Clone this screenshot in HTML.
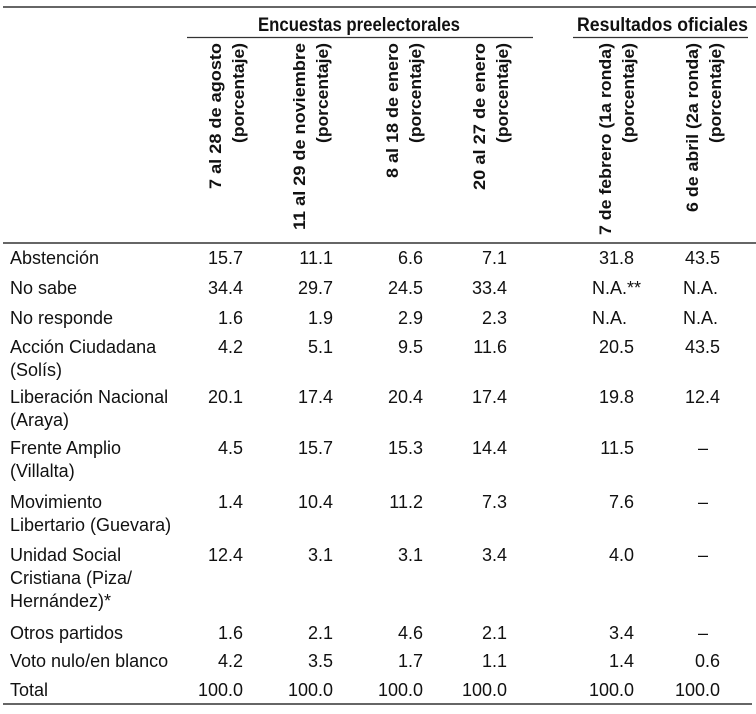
<!DOCTYPE html>
<html><head><meta charset="utf-8"><style>
html,body{margin:0;padding:0;background:#fff;}
svg{display:block;}
text{font-family:"Liberation Sans",sans-serif;font-size:18px;fill:#111;}
.b{font-weight:bold;}
.h{font-size:19px;}
.v{font-size:17px;font-weight:bold;}
.r{text-anchor:end;}
</style></head><body>
<svg width="756" height="714" viewBox="0 0 756 714" xmlns="http://www.w3.org/2000/svg">
<line x1="3" y1="7" x2="756" y2="7" stroke="#333" stroke-width="1.5"/>
<text class="b h" x="258" y="31" textLength="202" lengthAdjust="spacingAndGlyphs">Encuestas preelectorales</text>
<text class="b h" x="577" y="31" textLength="171" lengthAdjust="spacingAndGlyphs">Resultados oficiales</text>
<line x1="187" y1="37.5" x2="533" y2="37.5" stroke="#333" stroke-width="1.2"/>
<line x1="573" y1="37.5" x2="748" y2="37.5" stroke="#333" stroke-width="1.2"/>
<g>
<text class="v r" transform="translate(221,43) rotate(-90)" textLength="146" lengthAdjust="spacingAndGlyphs">7 al 28 de agosto</text>
<text class="v r" transform="translate(244,43) rotate(-90)" textLength="100" lengthAdjust="spacingAndGlyphs">(porcentaje)</text>
<text class="v r" transform="translate(305,43) rotate(-90)" textLength="187" lengthAdjust="spacingAndGlyphs">11 al 29 de noviembre</text>
<text class="v r" transform="translate(328,43) rotate(-90)" textLength="100" lengthAdjust="spacingAndGlyphs">(porcentaje)</text>
<text class="v r" transform="translate(398,43) rotate(-90)" textLength="135" lengthAdjust="spacingAndGlyphs">8 al 18 de enero</text>
<text class="v r" transform="translate(421,43) rotate(-90)" textLength="100" lengthAdjust="spacingAndGlyphs">(porcentaje)</text>
<text class="v r" transform="translate(485,43) rotate(-90)" textLength="147" lengthAdjust="spacingAndGlyphs">20 al 27 de enero</text>
<text class="v r" transform="translate(508,43) rotate(-90)" textLength="100" lengthAdjust="spacingAndGlyphs">(porcentaje)</text>
<text class="v r" transform="translate(611,43) rotate(-90)" textLength="192" lengthAdjust="spacingAndGlyphs">7 de febrero (1a ronda)</text>
<text class="v r" transform="translate(634,43) rotate(-90)" textLength="100" lengthAdjust="spacingAndGlyphs">(porcentaje)</text>
<text class="v r" transform="translate(698,43) rotate(-90)" textLength="169" lengthAdjust="spacingAndGlyphs">6 de abril (2a ronda)</text>
<text class="v r" transform="translate(721,43) rotate(-90)" textLength="100" lengthAdjust="spacingAndGlyphs">(porcentaje)</text>
</g>
<line x1="3" y1="243" x2="756" y2="243" stroke="#333" stroke-width="1.5"/>
<g>
<text x="10" y="264">Abstención</text>
<text x="10" y="294">No sabe</text>
<text x="10" y="324">No responde</text>
<text x="10" y="353">Acción Ciudadana</text><text x="10" y="376">(Solís)</text>
<text x="10" y="403">Liberación Nacional</text><text x="10" y="426">(Araya)</text>
<text x="10" y="454">Frente Amplio</text><text x="10" y="477">(Villalta)</text>
<text x="10" y="508">Movimiento</text><text x="10" y="531">Libertario (Guevara)</text>
<text x="10" y="561">Unidad Social</text><text x="10" y="584">Cristiana (Piza/</text><text x="10" y="607">Hernández)*</text>
<text x="10" y="639">Otros partidos</text>
<text x="10" y="667">Voto nulo/en blanco</text>
<text x="10" y="696">Total</text>
</g>
<g>
<text class="r" x="243" y="264">15.7</text><text class="r" x="243" y="294">34.4</text><text class="r" x="243" y="324">1.6</text><text class="r" x="243" y="353">4.2</text><text class="r" x="243" y="403">20.1</text><text class="r" x="243" y="454">4.5</text><text class="r" x="243" y="508">1.4</text><text class="r" x="243" y="561">12.4</text><text class="r" x="243" y="639">1.6</text><text class="r" x="243" y="667">4.2</text><text class="r" x="243" y="696">100.0</text>
<text class="r" x="333" y="264">11.1</text><text class="r" x="333" y="294">29.7</text><text class="r" x="333" y="324">1.9</text><text class="r" x="333" y="353">5.1</text><text class="r" x="333" y="403">17.4</text><text class="r" x="333" y="454">15.7</text><text class="r" x="333" y="508">10.4</text><text class="r" x="333" y="561">3.1</text><text class="r" x="333" y="639">2.1</text><text class="r" x="333" y="667">3.5</text><text class="r" x="333" y="696">100.0</text>
<text class="r" x="423" y="264">6.6</text><text class="r" x="423" y="294">24.5</text><text class="r" x="423" y="324">2.9</text><text class="r" x="423" y="353">9.5</text><text class="r" x="423" y="403">20.4</text><text class="r" x="423" y="454">15.3</text><text class="r" x="423" y="508">11.2</text><text class="r" x="423" y="561">3.1</text><text class="r" x="423" y="639">4.6</text><text class="r" x="423" y="667">1.7</text><text class="r" x="423" y="696">100.0</text>
<text class="r" x="507" y="264">7.1</text><text class="r" x="507" y="294">33.4</text><text class="r" x="507" y="324">2.3</text><text class="r" x="507" y="353">11.6</text><text class="r" x="507" y="403">17.4</text><text class="r" x="507" y="454">14.4</text><text class="r" x="507" y="508">7.3</text><text class="r" x="507" y="561">3.4</text><text class="r" x="507" y="639">2.1</text><text class="r" x="507" y="667">1.1</text><text class="r" x="507" y="696">100.0</text>
<text class="r" x="634" y="264">31.8</text><text x="592" y="294">N.A.**</text><text x="592" y="324">N.A.</text><text class="r" x="634" y="353">20.5</text><text class="r" x="634" y="403">19.8</text><text class="r" x="634" y="454">11.5</text><text class="r" x="634" y="508">7.6</text><text class="r" x="634" y="561">4.0</text><text class="r" x="634" y="639">3.4</text><text class="r" x="634" y="667">1.4</text><text class="r" x="634" y="696">100.0</text>
<text class="r" x="720" y="264">43.5</text><text x="683" y="294">N.A.</text><text x="683" y="324">N.A.</text><text class="r" x="720" y="353">43.5</text><text class="r" x="720" y="403">12.4</text><text class="r" x="708" y="454">–</text><text class="r" x="708" y="508">–</text><text class="r" x="708" y="561">–</text><text class="r" x="708" y="639">–</text><text class="r" x="720" y="667">0.6</text><text class="r" x="720" y="696">100.0</text>
</g>
<line x1="3" y1="704" x2="752" y2="704" stroke="#333" stroke-width="1.5"/>
</svg>
</body></html>
